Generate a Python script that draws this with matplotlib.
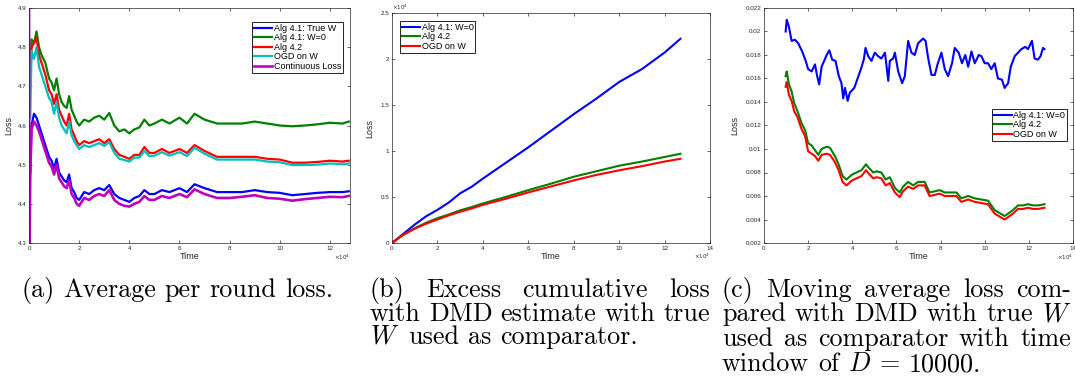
import numpy as np
import matplotlib
matplotlib.use("Agg")
import matplotlib.pyplot as plt

# ---- panel (a): average per round loss (time in units of 1e4) ----
time_a = [0.05, 0.1, 0.2, 0.3, 0.4, 0.5, 0.65, 0.8, 0.9, 1.0,
          1.1, 1.2, 1.3, 1.4, 1.5, 1.6, 1.7, 1.8, 1.9, 2.0,
          2.2, 2.4, 2.6, 2.8, 3.0, 3.2, 3.4, 3.6, 3.8, 4.0,
          4.2, 4.4, 4.6, 4.8, 5.0, 5.3, 5.6, 6.0, 6.3, 6.6,
          7.0, 7.5, 8.0, 8.5, 9.0, 9.5, 10.0, 10.5, 11.0, 11.5,
          12.0, 12.5, 12.75]
alg41_true_a = [4.48, 4.60, 4.63, 4.62, 4.60, 4.58, 4.55, 4.52, 4.51, 4.49,
                4.515, 4.48, 4.47, 4.46, 4.455, 4.475, 4.44, 4.43, 4.415, 4.41,
                4.43, 4.425, 4.435, 4.44, 4.435, 4.448, 4.425, 4.415, 4.41, 4.405,
                4.415, 4.42, 4.435, 4.425, 4.425, 4.435, 4.43, 4.44, 4.43, 4.45,
                4.44, 4.43, 4.43, 4.43, 4.435, 4.43, 4.428, 4.422, 4.425, 4.428,
                4.43, 4.43, 4.432]
alg41_zero_a = [4.72, 4.82, 4.81, 4.84, 4.80, 4.78, 4.76, 4.72, 4.71, 4.69,
                4.72, 4.68, 4.66, 4.65, 4.645, 4.675, 4.64, 4.625, 4.61, 4.60,
                4.615, 4.61, 4.62, 4.625, 4.615, 4.632, 4.60, 4.585, 4.59, 4.58,
                4.59, 4.595, 4.615, 4.60, 4.605, 4.615, 4.605, 4.62, 4.605, 4.63,
                4.615, 4.605, 4.605, 4.605, 4.61, 4.605, 4.60, 4.598, 4.60, 4.603,
                4.607, 4.605, 4.61]
alg42_a = [4.70, 4.80, 4.81, 4.825, 4.78, 4.76, 4.73, 4.69, 4.68, 4.655,
           4.68, 4.64, 4.625, 4.61, 4.60, 4.63, 4.59, 4.575, 4.56, 4.55,
           4.56, 4.555, 4.56, 4.565, 4.555, 4.565, 4.54, 4.525, 4.52, 4.515,
           4.525, 4.525, 4.545, 4.53, 4.53, 4.54, 4.53, 4.54, 4.53, 4.55,
           4.535, 4.52, 4.52, 4.52, 4.52, 4.515, 4.513, 4.505, 4.505, 4.507,
           4.51, 4.508, 4.51]
ogd_a = [4.62, 4.79, 4.77, 4.80, 4.75, 4.73, 4.70, 4.67, 4.66, 4.63,
         4.66, 4.62, 4.60, 4.59, 4.58, 4.61, 4.575, 4.56, 4.55, 4.54,
         4.55, 4.545, 4.55, 4.555, 4.548, 4.558, 4.53, 4.515, 4.512, 4.508,
         4.518, 4.518, 4.535, 4.522, 4.523, 4.532, 4.523, 4.532, 4.522, 4.543,
         4.528, 4.513, 4.513, 4.513, 4.513, 4.508, 4.506, 4.499, 4.499, 4.50,
         4.503, 4.501, 4.503]
time_cont_a = [0.0, 0.02] + time_a
continuous_a = [4.9, 4.3,
                4.47, 4.59, 4.61, 4.60, 4.585, 4.565, 4.535, 4.505, 4.495, 4.475,
                4.50, 4.465, 4.455, 4.445, 4.44, 4.46, 4.425, 4.415, 4.40, 4.395,
                4.415, 4.41, 4.42, 4.425, 4.42, 4.435, 4.41, 4.40, 4.395, 4.393,
                4.40, 4.405, 4.42, 4.41, 4.41, 4.42, 4.415, 4.425, 4.417, 4.437,
                4.425, 4.415, 4.415, 4.418, 4.422, 4.415, 4.413, 4.408, 4.412, 4.415,
                4.418, 4.417, 4.42]

# ---- panel (b): excess cumulative loss (both axes in units of 1e4) ----
time_b = [0, 0.5, 1, 1.5, 2, 2.5, 3, 3.5, 4, 5, 6, 7, 8, 9, 10, 11, 12, 12.7]
alg41_zero_b = [0, 0.10, 0.20, 0.29, 0.36, 0.44, 0.54, 0.61, 0.70, 0.87,
                1.04, 1.22, 1.40, 1.57, 1.75, 1.89, 2.07, 2.22]
alg42_b = [0, 0.09, 0.16, 0.22, 0.27, 0.31, 0.355, 0.39, 0.43, 0.50,
           0.575, 0.645, 0.72, 0.78, 0.84, 0.885, 0.935, 0.97]
ogd_b = [0, 0.09, 0.155, 0.21, 0.255, 0.30, 0.34, 0.375, 0.415, 0.48,
         0.55, 0.615, 0.68, 0.74, 0.79, 0.835, 0.885, 0.915]

# ---- panel (c): moving average loss, window D = 10000 ----
time_c_blue = [0.98, 1.03, 1.13, 1.25, 1.40, 1.55, 1.73, 1.89, 2.0, 2.16,
               2.31, 2.41, 2.50, 2.61, 2.84, 2.96, 3.09, 3.24, 3.39, 3.51,
               3.59, 3.67, 3.79, 3.89, 4.09, 4.24, 4.39, 4.52, 4.60, 4.72,
               4.87, 5.02, 5.17, 5.32, 5.48, 5.63, 5.70, 5.85, 5.93, 6.08,
               6.26, 6.38, 6.53, 6.68, 6.83, 6.98, 7.21, 7.32, 7.44, 7.59,
               7.74, 7.86, 8.04, 8.19, 8.34, 8.52, 8.64, 8.82, 8.97, 9.12,
               9.25, 9.40, 9.55, 9.73, 9.85, 10.0, 10.15, 10.3, 10.45, 10.6,
               10.78, 10.9, 11.06, 11.18, 11.36, 11.51, 11.66, 11.84, 11.96, 12.14,
               12.26, 12.41, 12.53, 12.64, 12.71]
alg41_zero_c = [0.0200, 0.0210, 0.0204, 0.0192, 0.0193, 0.0190, 0.0183, 0.0175, 0.0168, 0.0166,
                0.0172, 0.0162, 0.0155, 0.0170, 0.0180, 0.0184, 0.0176, 0.0175, 0.0162, 0.0156,
                0.0143, 0.0152, 0.0141, 0.0148, 0.0152, 0.0160, 0.0168, 0.0176, 0.0186, 0.0179,
                0.0175, 0.0182, 0.0179, 0.0177, 0.0182, 0.0158, 0.0175, 0.0177, 0.0182, 0.0166,
                0.0156, 0.0162, 0.0192, 0.0182, 0.0180, 0.0190, 0.0194, 0.0192, 0.0177, 0.0163,
                0.0163, 0.0172, 0.0182, 0.0168, 0.0162, 0.0173, 0.0186, 0.0182, 0.0173, 0.0180,
                0.0170, 0.0183, 0.0173, 0.0180, 0.0179, 0.0173, 0.0173, 0.0168, 0.0173, 0.0160,
                0.0159, 0.0152, 0.0156, 0.0170, 0.0179, 0.0182, 0.0185, 0.0187, 0.0185, 0.0192,
                0.0177, 0.0176, 0.0179, 0.0186, 0.0185]
time_c = [0.98, 1.03, 1.13, 1.25, 1.37, 1.52, 1.70, 1.86, 2.0, 2.16,
          2.31, 2.46, 2.61, 2.84, 2.99, 3.21, 3.36, 3.56, 3.74, 3.97,
          4.19, 4.42, 4.62, 4.75, 4.95, 5.10, 5.32, 5.51, 5.70, 5.93,
          6.15, 6.30, 6.53, 6.76, 6.98, 7.28, 7.50, 7.74, 7.96, 8.19,
          8.49, 8.72, 8.94, 9.25, 9.55, 9.85, 10.15, 10.45, 10.72, 10.9,
          11.06, 11.28, 11.51, 11.73, 11.96, 12.19, 12.41, 12.71]
alg42_c = [0.0162, 0.0166, 0.0155, 0.0149, 0.0139, 0.0132, 0.0122, 0.0116, 0.0105, 0.0103,
           0.0099, 0.0095, 0.0100, 0.0102, 0.0101, 0.0094, 0.0088, 0.0077, 0.0074, 0.0078,
           0.0080, 0.0082, 0.0087, 0.0084, 0.0080, 0.0081, 0.0080, 0.0074, 0.0076, 0.0067,
           0.0063, 0.0068, 0.0072, 0.0069, 0.0072, 0.0072, 0.0063, 0.0064, 0.0065, 0.0063,
           0.0063, 0.0063, 0.0058, 0.0060, 0.0058, 0.0057, 0.0056, 0.0048, 0.0045, 0.0043,
           0.0045, 0.0048, 0.0052, 0.0052, 0.0053, 0.0052, 0.0052, 0.0053]
ogd_c = [0.0153, 0.0157, 0.0146, 0.0141, 0.0132, 0.0127, 0.0117, 0.0111, 0.0098, 0.0096,
         0.0094, 0.0090, 0.0095, 0.0096, 0.0095, 0.0089, 0.0083, 0.0072, 0.0069, 0.0073,
         0.0075, 0.0077, 0.0082, 0.0079, 0.0075, 0.0076, 0.0075, 0.0069, 0.0071, 0.0063,
         0.0059, 0.0064, 0.0068, 0.0066, 0.0069, 0.0069, 0.0060, 0.0061, 0.0062, 0.0060,
         0.0060, 0.0060, 0.0055, 0.0057, 0.0055, 0.0054, 0.0053, 0.0045, 0.0042, 0.0040,
         0.0042, 0.0045, 0.0049, 0.0049, 0.0050, 0.0049, 0.0049, 0.0050]

BLUE = (0, 0, 1)
GREEN = (0, 0.5, 0)
RED = (1, 0, 0)
CYAN = (0, 0.75, 0.75)
MAGENTA = (0.75, 0, 0.75)
AXCOL = "#262626"

W, H = 1075, 381
plt.rcParams["font.family"] = ["Liberation Sans", "DejaVu Sans"]


def px_rect(left, top, right, bottom):
    return [left / W, 1 - bottom / H, (right - left) / W, (bottom - top) / H]


def style_axes(ax, label_x):
    ax.tick_params(direction="in", top=True, right=True, length=2.5, width=0.5,
                   labelsize=4.5, pad=2, colors=AXCOL)
    for sp in ax.spines.values():
        sp.set_linewidth(0.5)
        sp.set_color(AXCOL)
    ax.set_xlabel("Time", fontsize=6.5, labelpad=1, color=AXCOL)
    ax.set_ylabel("Loss", fontsize=6.5, color=AXCOL)
    ax.yaxis.set_label_coords(label_x, 0.5)
    ax.yaxis.set_major_formatter(matplotlib.ticker.FormatStrFormatter("%g"))
    ax.xaxis.set_major_formatter(matplotlib.ticker.FormatStrFormatter("%g"))
    ax.text(1.0, -0.06, r"$\times10^{4}$", transform=ax.transAxes,
            fontsize=4, ha="right", va="center", color=AXCOL)


def add_legend(ax, loc, anchor):
    leg = ax.legend(loc=loc, bbox_to_anchor=anchor, fontsize=6.5, fancybox=False,
                    edgecolor="black", framealpha=1, borderpad=0.2, labelspacing=0.05,
                    handlelength=2.0, handletextpad=0.2, borderaxespad=0)
    leg.get_frame().set_linewidth(0.6)


fig = plt.figure(figsize=(W / 100, H / 100), dpi=100)

# (a)
ax_a = fig.add_axes(px_rect(29, 8, 350, 243))
x_a = np.array(time_a)
ax_a.plot(x_a, alg41_true_a, color=BLUE, lw=1.6, label="Alg 4.1: True W")
ax_a.plot(x_a, alg41_zero_a, color=GREEN, lw=1.6, label="Alg 4.1: W=0")
ax_a.plot(x_a, alg42_a, color=RED, lw=1.6, label="Alg 4.2")
ax_a.plot(x_a, ogd_a, color=CYAN, lw=1.6, label="OGD on W")
ax_a.plot(time_cont_a, continuous_a, color=MAGENTA, lw=1.9, label="Continuous Loss")
ax_a.set_xlim(0, 12.8)
ax_a.set_ylim(4.3, 4.9)
ax_a.set_xticks(np.arange(0, 13, 2))
ax_a.set_yticks(np.arange(4.3, 4.91, 0.1))
style_axes(ax_a, -0.05)
add_legend(ax_a, "upper right", (0.978, 0.94))

# (b)
ax_b = fig.add_axes(px_rect(392, 13, 710, 243))
ax_b.plot(time_b, alg41_zero_b, color=BLUE, lw=1.5, label="Alg 4.1: W=0")
ax_b.plot(time_b, alg42_b, color=GREEN, lw=1.5, label="Alg 4.2")
ax_b.plot(time_b, ogd_b, color=RED, lw=1.5, label="OGD on W")
ax_b.set_xlim(0, 14)
ax_b.set_ylim(0, 2.5)
ax_b.set_xticks(np.arange(0, 15, 2))
ax_b.set_yticks(np.arange(0, 2.51, 0.5))
style_axes(ax_b, -0.055)
ax_b.text(0.0, 1.005, r"$\times10^{4}$", transform=ax_b.transAxes,
          fontsize=4, ha="left", va="bottom", color=AXCOL)
add_legend(ax_b, "upper left", (0.025, 0.965))

# (c)
ax_c = fig.add_axes(px_rect(764, 8, 1073, 243))
ax_c.plot(time_c_blue, alg41_zero_c, color=BLUE, lw=1.5, label="Alg 4.1: W=0")
ax_c.plot(time_c, alg42_c, color=GREEN, lw=1.5, label="Alg 4.2")
ax_c.plot(time_c, ogd_c, color=RED, lw=1.5, label="OGD on W")
ax_c.set_xlim(0, 14)
ax_c.set_ylim(0.002, 0.022)
ax_c.set_xticks(np.arange(0, 15, 2))
ax_c.set_yticks(np.arange(0.002, 0.0221, 0.002))
style_axes(ax_c, -0.08)
add_legend(ax_c, "upper right", (0.981, 0.57))

# ---- captions (LaTeX-like serif, justified lines) ----
CAP = dict(fontfamily="cmr10", math_fontfamily="cm", fontsize=18.8, color="black",
           va="baseline", ha="left")
renderer = fig.canvas.get_renderer()


def caption_line(words, x0, y, x1=None):
    texts = [fig.text(x0 / W, 1 - y / H, w, **CAP) for w in words]
    widths = [t.get_window_extent(renderer).width for t in texts]
    if x1 is None or len(words) == 1:
        gap = fig.text(0, 0, "a a", **CAP).get_window_extent(renderer).width - \
            fig.text(0, 0, "aa", **CAP).get_window_extent(renderer).width
        fig.texts[-2].remove()
        fig.texts[-1].remove()
    else:
        gap = (x1 - x0 - sum(widths)) / (len(words) - 1)
    x = x0
    for t, w in zip(texts, widths):
        t.set_x(x / W)
        x += w + gap


caption_line(["(a)", "Average", "per", "round", "loss."], 21, 297)

caption_line(["(b)", "Excess", "cumulative", "loss"], 370, 297, 710)
caption_line(["with", "DMD", "estimate", "with", "true"], 370, 321, 710)
caption_line(["$W$", "used", "as", "comparator."], 370, 344)

caption_line(["(c)", "Moving", "average", "loss", "com-"], 722, 297, 1071)
caption_line(["pared", "with", "DMD", "with", "true", "$W$"], 722, 321, 1071)
caption_line(["used", "as", "comparator", "with", "time"], 722, 346, 1071)
caption_line(["window", "of", "$D$", "=", "10000."], 722, 371)

fig.savefig("out.png", dpi=100)
